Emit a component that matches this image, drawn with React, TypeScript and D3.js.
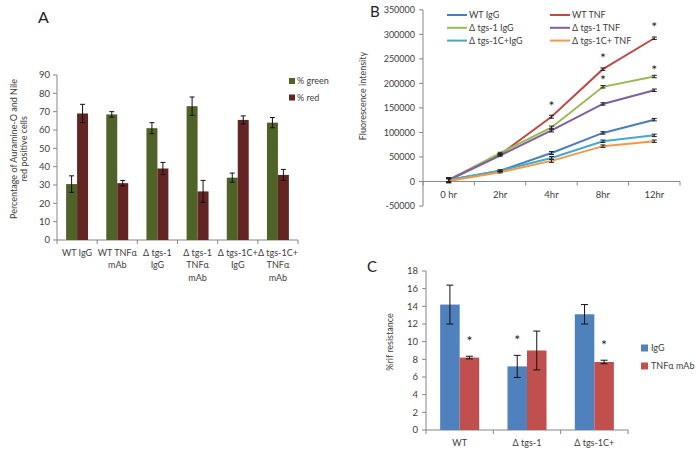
import * as d3 from "d3";
import { useEffect, useRef } from "react";

// Panel A
const aCategories = [
  ["WT IgG"],
  ["WT TNFα", "mAb"],
  ["Δ tgs-1", "IgG"],
  ["Δ tgs-1", "TNFα", "mAb"],
  ["Δ tgs-1C+", "IgG"],
  ["Δ tgs-1C+", "TNFα", "mAb"],
];
const aGreen = [30.5, 68.5, 61, 73, 34, 64];
const aGreenErr = [4.5, 1.5, 3, 5, 2.5, 2.8];
const aRed = [69, 31, 39, 26.5, 65.5, 35.5];
const aRedErr = [5, 1.5, 3.3, 6, 2.2, 3];
const aTicks = [0, 10, 20, 30, 40, 50, 60, 70, 80, 90];

// Panel B
const bTimes = ["0 hr", "2hr", "4hr", "8hr", "12hr"];
const bSeriesNames = ["WT IgG", "WT TNF", "Δ tgs-1 IgG", "Δ tgs-1 TNF", "Δ tgs-1C+IgG", "Δ tgs-1C+ TNF"];
const bWtIgG = [3000, 22000, 58000, 99000, 126000];
const bWtTnf = [3000, 55000, 132000, 229000, 292000];
const bTgsIgG = [3000, 58000, 110000, 193000, 214000];
const bTgsTnf = [3000, 53000, 104000, 158000, 186000];
const bTgsCIgG = [3000, 22000, 48000, 82000, 94000];
const bTgsCTnf = [1000, 19000, 42000, 72000, 82000];
const bErr = [4000, 1500, 3000, 2500, 2500];
const bTicks = [-50000, 0, 50000, 100000, 150000, 200000, 250000, 300000, 350000];
const bStars = [
  { series: 1, time: 2 },
  { series: 1, time: 3 },
  { series: 1, time: 4 },
  { series: 2, time: 3 },
  { series: 2, time: 4 },
];

// Panel C
const cCategories = ["WT", "Δ tgs-1", "Δ tgs-1C+"];
const cIgG = [14.2, 7.2, 13.1];
const cIgGErr = [2.2, 1.25, 1.1];
const cTnf = [8.2, 9.0, 7.7];
const cTnfErr = [0.15, 2.2, 0.2];
const cTicks = [0, 2, 4, 6, 8, 10, 12, 14, 16, 18];
const cStars = [
  { series: 1, cat: 0 },
  { series: 0, cat: 1 },
  { series: 1, cat: 2 },
];

const FONT = "Lato, 'Open Sans', sans-serif";
const TEXT = "#404040";
const AXIS = "#868686";
const FS = 9;

export default function App() {
  const ref = useRef<SVGSVGElement>(null);

  useEffect(() => {
    const svg = d3.select(ref.current);
    svg.selectAll("*").remove();
    svg.style("font-family", FONT);

    // ---------- Panel A ----------
    const ax = d3.scaleBand().domain(aCategories.map((_, i) => String(i))).range([57, 298]);
    const ay = d3.scaleLinear().domain([0, 90]).range([240, 75]);
    const aInner = d3.scaleBand().domain(["g", "r"]).range([0, ax.bandwidth()]).paddingOuter(0.83);

    const gA = svg.append("g");
    gA.append("text").attr("x", 38).attr("y", 23).attr("font-size", 16).attr("fill", "#222").text("A");

    gA.append("line").attr("x1", 57).attr("x2", 57).attr("y1", ay(90)).attr("y2", ay(0)).attr("stroke", AXIS);
    gA.append("line").attr("x1", 57).attr("x2", 298).attr("y1", ay(0)).attr("y2", ay(0)).attr("stroke", AXIS);
    aTicks.forEach(t => {
      gA.append("line").attr("x1", 53).attr("x2", 57).attr("y1", ay(t)).attr("y2", ay(t)).attr("stroke", AXIS);
      gA.append("text").attr("x", 50).attr("y", ay(t) + 3.2).attr("text-anchor", "end").attr("font-size", FS + 0.5).attr("fill", TEXT).text(t);
    });
    d3.range(aCategories.length + 1).forEach(i => {
      const x = 57 + i * ax.step();
      gA.append("line").attr("x1", x).attr("x2", x).attr("y1", ay(0)).attr("y2", ay(0) + 4).attr("stroke", AXIS);
    });

    const aSeries = [
      { key: "g", vals: aGreen, errs: aGreenErr, color: "#4F6228" },
      { key: "r", vals: aRed, errs: aRedErr, color: "#632523" },
    ];
    aSeries.forEach(s => {
      s.vals.forEach((v, i) => {
        const x0 = (ax(String(i)) as number) + (aInner(s.key) as number);
        const w = aInner.bandwidth();
        gA.append("rect").attr("x", x0).attr("y", ay(v)).attr("width", w).attr("height", ay(0) - ay(v)).attr("fill", s.color);
        const cx = x0 + w / 2;
        const e = s.errs[i];
        gA.append("line").attr("x1", cx).attr("x2", cx).attr("y1", ay(v - e)).attr("y2", ay(v + e)).attr("stroke", "#111");
        [v - e, v + e].forEach(yy => {
          gA.append("line").attr("x1", cx - 2.5).attr("x2", cx + 2.5).attr("y1", ay(yy)).attr("y2", ay(yy)).attr("stroke", "#111");
        });
      });
    });

    aCategories.forEach((lines, i) => {
      const cx = (ax(String(i)) as number) + ax.bandwidth() / 2;
      lines.forEach((ln, j) => {
        gA.append("text").attr("x", cx).attr("y", 256 + j * 12.3).attr("text-anchor", "middle").attr("font-size", FS).attr("fill", TEXT).text(ln);
      });
    });

    const aLegend = [
      { label: "% green", color: "#4F6228" },
      { label: "% red", color: "#632523" },
    ];
    aLegend.forEach((l, i) => {
      const y = 81 + i * 16.5;
      gA.append("rect").attr("x", 289).attr("y", y - 3).attr("width", 6).attr("height", 6).attr("fill", l.color);
      gA.append("text").attr("x", 297).attr("y", y + 3.2).attr("font-size", FS).attr("fill", TEXT).text(l.label);
    });

    const aLabel = gA.append("text").attr("transform", "translate(17,149) rotate(-90)").attr("text-anchor", "middle").attr("font-size", FS).attr("fill", TEXT);
    aLabel.append("tspan").attr("x", 0).attr("y", 0).text("Percentage of Auramine-O and Nile");
    aLabel.append("tspan").attr("x", 0).attr("y", 10).text("red positive cells");

    // ---------- Panel B ----------
    const bx = d3.scaleBand().domain(bTimes).range([423, 680]);
    const by = d3.scaleLinear().domain([-50000, 350000]).range([206, 9.8]);
    const bData = [bWtIgG, bWtTnf, bTgsIgG, bTgsTnf, bTgsCIgG, bTgsCTnf];
    const bColors = ["#4A7EBB", "#BE4B48", "#98B954", "#7D60A0", "#46AAC5", "#F79646"];
    const gB = svg.append("g");
    gB.append("text").attr("x", 370).attr("y", 17).attr("font-size", 15).attr("fill", "#222").text("B");

    gB.append("line").attr("x1", 423).attr("x2", 423).attr("y1", by(350000)).attr("y2", by(-50000)).attr("stroke", AXIS);
    gB.append("line").attr("x1", 423).attr("x2", 680).attr("y1", by(0)).attr("y2", by(0)).attr("stroke", AXIS);
    bTicks.forEach(t => {
      gB.append("line").attr("x1", 419).attr("x2", 423).attr("y1", by(t)).attr("y2", by(t)).attr("stroke", AXIS);
      gB.append("text").attr("x", 415).attr("y", by(t) + 3.2).attr("text-anchor", "end").attr("font-size", FS).attr("fill", TEXT).text(t);
    });
    d3.range(bTimes.length + 1).forEach(i => {
      const x = 423 + i * bx.step();
      gB.append("line").attr("x1", x).attr("x2", x).attr("y1", by(0)).attr("y2", by(0) + 4).attr("stroke", AXIS);
    });
    bTimes.forEach(t => {
      gB.append("text").attr("x", (bx(t) as number) + bx.bandwidth() / 2).attr("y", by(0) + 17).attr("text-anchor", "middle").attr("font-size", FS + 0.5).attr("fill", TEXT).text(t);
    });

    const line = d3.line<number>().x((_, i) => (bx(bTimes[i]) as number) + bx.bandwidth() / 2).y(d => by(d));
    bData.forEach((vals, si) => {
      gB.append("path").datum(vals).attr("d", line).attr("fill", "none").attr("stroke", bColors[si]).attr("stroke-width", 2);
    });
    bData.forEach(vals => {
      vals.forEach((v, i) => {
        const cx = (bx(bTimes[i]) as number) + bx.bandwidth() / 2;
        const e = bErr[i];
        gB.append("line").attr("x1", cx).attr("x2", cx).attr("y1", by(v - e)).attr("y2", by(v + e)).attr("stroke", "#222");
        [v - e, v + e].forEach(yy => {
          gB.append("line").attr("x1", cx - 2.5).attr("x2", cx + 2.5).attr("y1", by(yy)).attr("y2", by(yy)).attr("stroke", "#222");
        });
      });
    });
    bStars.forEach(s => {
      const cx = (bx(bTimes[s.time]) as number) + bx.bandwidth() / 2;
      const off = s.series === 1 ? 14 : 10;
      gB.append("text").attr("x", cx).attr("y", by(bData[s.series][s.time]) - off + 8).attr("text-anchor", "middle").attr("font-size", 14).attr("fill", "#222").text("*");
    });

    bSeriesNames.forEach((name, i) => {
      const col = i % 2;
      const row = Math.floor(i / 2);
      const x = col === 0 ? 447 : 550;
      const y = 15 + row * 12.8;
      gB.append("line").attr("x1", x).attr("x2", x + 20).attr("y1", y).attr("y2", y).attr("stroke", bColors[i]).attr("stroke-width", 2);
      gB.append("text").attr("x", x + 22).attr("y", y + 3.2).attr("font-size", FS).attr("fill", TEXT).text(name);
    });

    gB.append("text").attr("transform", "translate(366,96) rotate(-90)").attr("text-anchor", "middle").attr("font-size", FS).attr("fill", TEXT).text("Fluorescence intensity");

    // ---------- Panel C ----------
    const cx = d3.scaleBand().domain(cCategories).range([426, 628]);
    const cy = d3.scaleLinear().domain([0, 18]).range([430, 271]);
    const cInner = d3.scaleBand().domain(["igg", "tnf"]).range([0, cx.bandwidth()]).paddingOuter(0.725);
    const gC = svg.append("g");
    gC.append("text").attr("x", 367).attr("y", 272).attr("font-size", 15).attr("fill", "#222").text("C");

    gC.append("line").attr("x1", 426).attr("x2", 426).attr("y1", cy(18)).attr("y2", cy(0)).attr("stroke", AXIS);
    gC.append("line").attr("x1", 426).attr("x2", 628).attr("y1", cy(0)).attr("y2", cy(0)).attr("stroke", AXIS);
    cTicks.forEach(t => {
      gC.append("line").attr("x1", 422).attr("x2", 426).attr("y1", cy(t)).attr("y2", cy(t)).attr("stroke", AXIS);
      gC.append("text").attr("x", 418).attr("y", cy(t) + 3.2).attr("text-anchor", "end").attr("font-size", FS + 0.5).attr("fill", TEXT).text(t);
    });
    d3.range(cCategories.length + 1).forEach(i => {
      const x = 426 + i * cx.step();
      gC.append("line").attr("x1", x).attr("x2", x).attr("y1", cy(0)).attr("y2", cy(0) + 4).attr("stroke", AXIS);
    });
    cCategories.forEach(c => {
      gC.append("text").attr("x", (cx(c) as number) + cx.bandwidth() / 2).attr("y", cy(0) + 16).attr("text-anchor", "middle").attr("font-size", FS).attr("fill", TEXT).text(c);
    });

    const cSeries = [
      { key: "igg", vals: cIgG, errs: cIgGErr, color: "#4F81BD", label: "IgG" },
      { key: "tnf", vals: cTnf, errs: cTnfErr, color: "#C0504D", label: "TNFα  mAb" },
    ];
    cSeries.forEach(s => {
      s.vals.forEach((v, i) => {
        const x0 = (cx(cCategories[i]) as number) + (cInner(s.key) as number);
        const w = cInner.bandwidth();
        gC.append("rect").attr("x", x0).attr("y", cy(v)).attr("width", w).attr("height", cy(0) - cy(v)).attr("fill", s.color);
        const mx = x0 + w / 2;
        const e = s.errs[i];
        gC.append("line").attr("x1", mx).attr("x2", mx).attr("y1", cy(v - e)).attr("y2", cy(v + e)).attr("stroke", "#111");
        [v - e, v + e].forEach(yy => {
          gC.append("line").attr("x1", mx - 3.5).attr("x2", mx + 3.5).attr("y1", cy(yy)).attr("y2", cy(yy)).attr("stroke", "#111");
        });
      });
    });
    cStars.forEach(s => {
      const ser = cSeries[s.series];
      const x0 = (cx(cCategories[s.cat]) as number) + (cInner(ser.key) as number) + cInner.bandwidth() / 2;
      const top = cy(ser.vals[s.cat] + ser.errs[s.cat]);
      gC.append("text").attr("x", x0).attr("y", top - 18 + 8).attr("text-anchor", "middle").attr("font-size", 14).attr("fill", "#222").text("*");
    });
    cSeries.forEach((s, i) => {
      const y = 348 + i * 18;
      gC.append("rect").attr("x", 641).attr("y", y - 3.5).attr("width", 7).attr("height", 7).attr("fill", s.color);
      gC.append("text").attr("x", 651).attr("y", y + 3.2).attr("font-size", FS).attr("fill", TEXT).text(s.label);
    });
    gC.append("text").attr("transform", "translate(393,342) rotate(-90)").attr("text-anchor", "middle").attr("font-size", FS).attr("fill", TEXT).text("%rif resistance");
  }, []);

  return (
    <svg
      ref={ref}
      width={697}
      height={451}
      style={{ position: "absolute", left: 0, top: 0, background: "#fff" }}
    />
  );
}
